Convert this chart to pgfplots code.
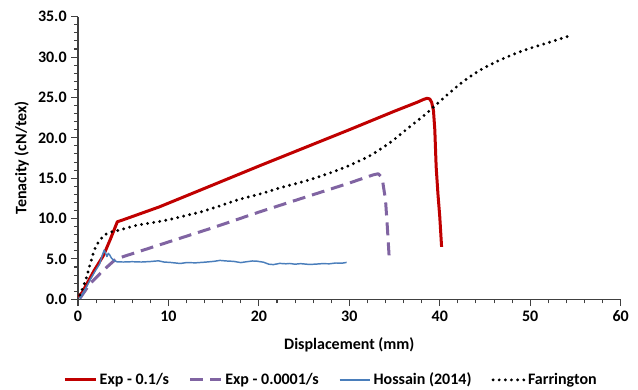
\documentclass[border=0pt]{standalone}
\usepackage{pgfplots}
\pgfplotsset{compat=1.18}
\usepackage{fontspec}
\setmainfont{Carlito}
\definecolor{cred}{HTML}{C00000}
\definecolor{cpurple}{HTML}{8064A2}
\definecolor{cblue}{HTML}{4A7EBB}
\begin{document}
\begin{tikzpicture}
\useasboundingbox (-58.5pt,-67.3pt) rectangle (420pt,224.5pt);
\begin{axis}[
  scale only axis,
  width=407pt, height=212pt,
  xmin=0, xmax=60, ymin=0, ymax=35,
  axis x line*=bottom, axis y line*=left,
  axis line style={black!75, line width=0.8pt},
  xtick={0,10,...,60}, ytick={0,5,...,35},
  minor x tick num=4, minor y tick num=4,
  tick align=outside,
  major tick length=5pt, minor tick length=3pt,
  tick style={black!75, line width=0.8pt},
  /pgf/number format/assume math mode=true,
  yticklabel style={/pgf/number format/fixed, /pgf/number format/fixed zerofill, /pgf/number format/precision=1},
  ticklabel style={font=\fontsize{12}{14}\selectfont\bfseries},
  xlabel={Displacement (mm)}, ylabel={Tenacity (cN/tex)},
  label style={font=\fontsize{12}{14}\selectfont\bfseries},
  xlabel style={yshift=-5pt},
  legend columns=4,
  legend style={draw=none, at={(0.467,-0.285)}, anchor=center,
    font=\fontsize{12}{14}\selectfont\bfseries,
    /tikz/every even column/.append style={column sep=13pt}},
  legend image code/.code={\draw[#1] (0pt,0pt) -- (23pt,0pt);},
]
\addplot[cred, line width=2.25pt, line join=round] coordinates {
(0.03,0.3) (0.5,0.9) (0.8,1.55) (1.8,3.6) (2.8,5.4) (3.6,7.5) (4.35,9.6) (5,9.85) (9,11.45) (15,14.2) (20,16.5) (25,18.75) (30,21.0) (35,23.3) (37.5,24.4) (38.2,24.75) (38.6,24.9) (38.9,24.8) (39.1,24.4) (39.3,23.4) (39.45,21.0) (39.6,16.4) (39.8,13.0) (40.0,10.2) (40.2,6.5)
};
\addlegendentry{Exp - 0.1/s}
\addplot[cpurple, line width=2.25pt, dash pattern=on 9.75pt off 5.25pt, line join=round] coordinates {
(0.2,0.1) (1.3,1.9) (2.8,3.6) (4.2,5.0) (10,7.1) (15,8.9) (20,10.8) (25,12.6) (30,14.4) (32.6,15.4) (33.2,15.55) (33.5,15.2) (33.7,14.5) (34.0,12.3) (34.2,9.0) (34.4,5.3)
};
\addlegendentry{Exp - 0.0001/s}
\addplot[cblue, line width=1.1pt, line join=round] coordinates {
(0.2,0.1) (0.6,0.8) (1.33,2.4) (1.9,3.5) (2.4,4.4) (2.7,5.5) (2.9,6.1) (3.05,5.7) (3.2,5.3) (3.35,5.7) (3.5,5.5) (3.7,5.1) (4.0,4.8) (4.3,4.65) (5,4.62) (6,4.66) (7,4.62) (8,4.68) (8.9,4.77) (9.5,4.62) (10.2,4.57) (11.3,4.44) (12,4.55) (13,4.52) (14,4.6) (15,4.7) (15.7,4.82) (16.4,4.75) (17.2,4.7) (18,4.55) (18.6,4.65) (19.3,4.75) (19.8,4.72) (20.5,4.6) (21.1,4.35) (21.6,4.3) (22.3,4.45) (23,4.4) (23.4,4.44) (24,4.35) (24.6,4.42) (25.6,4.32) (26.3,4.36) (27,4.42) (27.8,4.4) (28.5,4.5) (29.2,4.48) (29.7,4.57)
};
\addlegendentry{Hossain (2014)}
\addplot[black, line width=2.4pt, line cap=round, dash pattern=on 0pt off 4.6pt, smooth, tension=0.4] coordinates {
(0.2,0.53) (0.6,1.6) (0.96,2.8) (1.3,4.2) (1.7,5.7) (2.0,6.6) (2.4,7.3) (2.8,7.8) (3.2,8.15) (3.7,8.35) (4.3,8.5) (5.3,8.8) (6.5,9.17) (8,9.45) (9.06,9.65) (10.2,9.9) (12,10.4) (13.5,10.8) (15.5,11.5) (17.9,12.4) (20,13.0) (22.3,13.8) (24,14.3) (25.6,14.8) (28,15.7) (30.05,16.6) (32.3,17.8) (34.5,19.4) (36.5,21.2) (38.5,23.0) (40.5,25.0) (42.5,26.9) (44.5,28.4) (46.6,29.6) (48.5,30.5) (50.3,31.2) (52.2,31.85) (54.7,32.75)
};
\addlegendentry{Farrington}
\end{axis}
\end{tikzpicture}
\end{document}
